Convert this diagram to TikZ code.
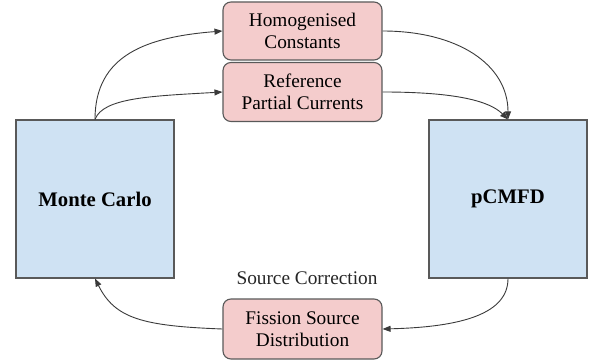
\documentclass[tikz,border=0pt]{standalone}
\usepackage{fontspec}
\setmainfont{Liberation Serif}
\usetikzlibrary{arrows.meta}
\definecolor{pinkfill}{HTML}{F4CCCC}
\definecolor{bluefill}{HTML}{CFE2F3}
\definecolor{edgegray}{HTML}{595959}
\definecolor{linegray}{HTML}{3A3A3A}
\tikzset{
  bigbox/.style={draw=edgegray, line width=1.1pt, fill=bluefill, minimum width=158pt, minimum height=158pt, inner sep=0pt, font=\fontsize{20.7}{24}\selectfont\bfseries},
  datbox/.style={draw=edgegray, line width=1.1pt, fill=pinkfill, rounded corners=8pt, minimum width=159pt, inner sep=0pt, align=center, font=\fontsize{19.3}{22}\selectfont},
  lbl/.style={font=\fontsize{19.3}{22}\selectfont, text=black!85},
  arr/.style={draw=linegray, line width=0.9pt, -{Triangle[length=8pt,width=6pt]}}
}
\begin{document}
\begin{tikzpicture}[x=1pt,y=-1pt]
\useasboundingbox (0,0) rectangle (591,363);
\node[bigbox] (mc) at (95,199) {Monte Carlo};
\node[bigbox] (pc) at (508,199) {pCMFD};
\node[datbox, minimum height=58pt] (hom) at (302.5,31) {Homogenised\\Constants};
\node[datbox, minimum height=59pt] (ref) at (302.5,92) {Reference\\Partial Currents};
\node[datbox, minimum height=60pt] (fis) at (302.5,329) {Fission Source\\Distribution};
\node[lbl] (sc) at (307,278) {Source Correction};
\draw[arr] (mc.north) .. controls +(0,-65) and +(-75,6) .. (hom.west);
\draw[arr] (mc.north) .. controls +(8,-22) and +(-70,4) .. (ref.west);
\draw[arr] (hom.east) .. controls +(75,0) and +(0,-55) .. (pc.north);
\draw[arr] (ref.east) .. controls +(75,0) and +(-18,-18) .. (pc.north);
\draw[arr] (pc.south) .. controls +(0,35) and +(80,-2) .. (fis.east);
\draw[arr] (fis.west) .. controls +(-80,-3) and +(20,40) .. (mc.south);
\end{tikzpicture}
\end{document}
